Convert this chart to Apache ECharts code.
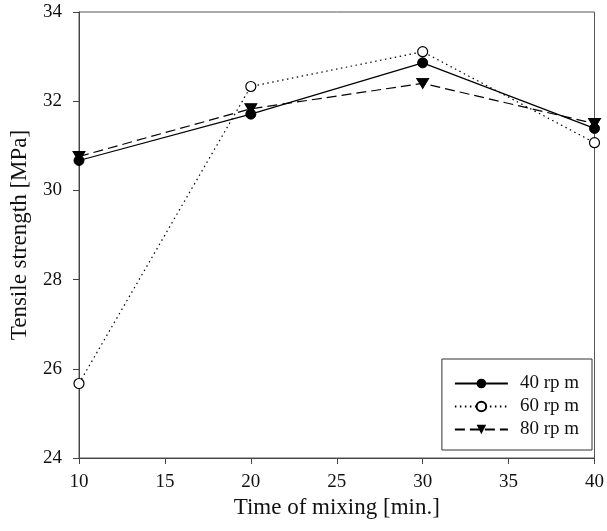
<!DOCTYPE html>
<html>
<head>
<meta charset="utf-8">
<script src="https://cdn.jsdelivr.net/npm/echarts@6/dist/echarts.min.js"></script>
<style>html,body{margin:0;padding:0;background:#fff;}#c{width:607px;height:531px;}</style>
</head>
<body>
<div id="c"></div>
<script>
var times = [10, 20, 30, 40];
var rpm40 = [30.67, 31.71, 32.86, 31.39];
var rpm60 = [25.67, 32.33, 33.11, 31.07];
var rpm80 = [30.76, 31.83, 32.40, 31.50];
var seriesNames = ['40 rp m', '60 rp m', '80 rp m'];
var xTicks = [10, 15, 20, 25, 30, 35, 40];
var yTicks = [24, 26, 28, 30, 32, 34];

function pairs(vals) { return times.map(function (t, i) { return [t, vals[i]]; }); }

var font = 'Liberation Serif';
var chart = echarts.init(document.getElementById('c'));
chart.setOption({
  animation: false,
  backgroundColor: '#fff',
  grid: { left: 74, right: 12, top: 12, bottom: 73, show: true, borderColor: '#555', borderWidth: 1 },
  xAxis: {
    type: 'value', min: xTicks[0], max: xTicks[xTicks.length - 1], interval: 5,
    name: 'Time of mixing [min.]', nameLocation: 'middle', nameGap: 38,
    nameTextStyle: { fontFamily: font, fontSize: 23, color: '#111' },
    axisLine: { lineStyle: { color: '#444', width: 1 } },
    axisTick: { show: true, inside: false, length: 6, lineStyle: { color: '#444' } },
    axisLabel: { fontFamily: font, fontSize: 19, color: '#111', margin: 15 },
    splitLine: { show: false }
  },
  yAxis: {
    type: 'value', min: yTicks[0], max: yTicks[yTicks.length - 1], interval: 2,
    name: 'Tensile strength [MPa]', nameLocation: 'middle', nameGap: 48,
    nameTextStyle: { fontFamily: font, fontSize: 23, color: '#111' },
    axisLine: { lineStyle: { color: '#444', width: 1 } },
    axisTick: { show: true, inside: false, length: 6, lineStyle: { color: '#444' } },
    axisLabel: { fontFamily: font, fontSize: 19, color: '#111', margin: 17 },
    splitLine: { show: false }
  },
  legend: {
    right: 15, top: 359, orient: 'vertical',
    backgroundColor: '#fff', borderColor: '#333', borderWidth: 1,
    padding: [15, 13, 11, 12], itemGap: 4, itemWidth: 53, itemHeight: 12,
    textStyle: { fontFamily: font, fontSize: 19, color: '#111', padding: [0, 0, 0, 7] },
    data: seriesNames
  },
  series: [
    { name: seriesNames[0], type: 'line', data: pairs(rpm40), symbol: 'circle', symbolSize: 10,
      itemStyle: { color: '#000', borderColor: '#000' }, lineStyle: { color: '#000', width: 1.2, type: 'solid' } },
    { name: seriesNames[1], type: 'line', data: pairs(rpm60), symbol: 'circle', symbolSize: 10,
      itemStyle: { color: '#fff', borderColor: '#000', borderWidth: 1.2 }, lineStyle: { color: '#000', width: 1.2, type: [1.5, 3.5] } },
    { name: seriesNames[2], type: 'line', data: pairs(rpm80), symbol: 'triangle', symbolSize: [12, 10], symbolRotate: 180,
      itemStyle: { color: '#000', borderColor: '#000' }, lineStyle: { color: '#000', width: 1.2, type: [10, 5] } }
  ]
});
</script>
</body>
</html>
